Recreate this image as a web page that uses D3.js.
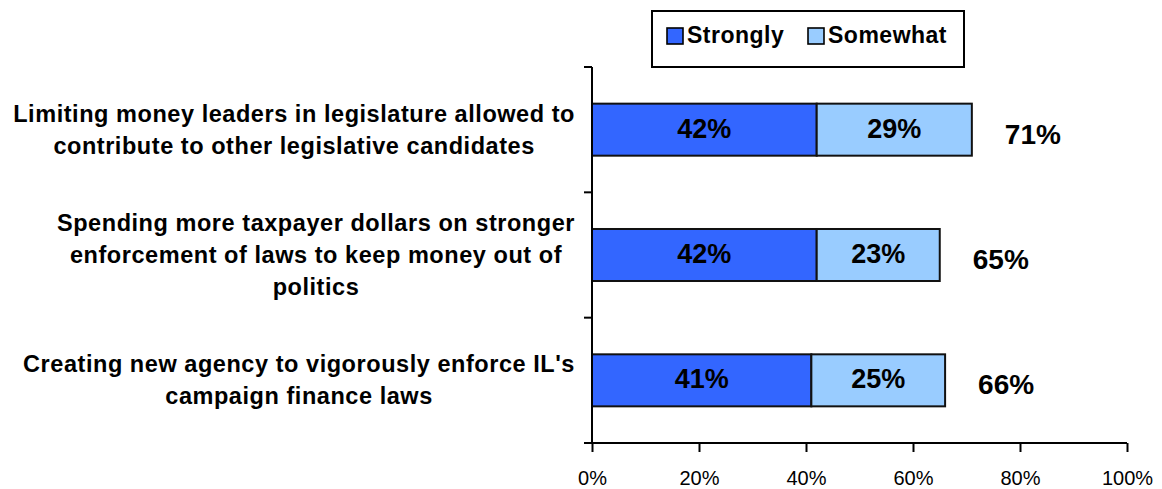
<!DOCTYPE html>
<html>
<head>
<meta charset="utf-8">
<script src="https://cdn.jsdelivr.net/npm/d3@7"></script>
<style>
  html, body { margin: 0; padding: 0; background: #fff; }
  svg { display: block; font-family: "Liberation Sans", Arial, sans-serif; }
</style>
</head>
<body>
<svg id="chart" width="1162" height="489"></svg>
<script>
// Survey items, top to bottom
const categories = [
  "Limiting money leaders in legislature allowed to contribute to other legislative candidates",
  "Spending more taxpayer dollars on stronger enforcement of laws to keep money out of politics",
  "Creating new agency to vigorously enforce IL's campaign finance laws"
];
// Wrapped label lines for each item
const categoryLines = [
  ["Limiting money leaders in legislature allowed to", "contribute to other legislative candidates"],
  ["Spending more taxpayer dollars on stronger", "enforcement of laws to keep money out of", "politics"],
  ["Creating new agency to vigorously enforce IL's", "campaign finance laws"]
];
const seriesNames = ["Strongly", "Somewhat"];
const strongly = [42, 42, 41];
const somewhat = [29, 23, 25];
const totals = [71, 65, 66];
const xTicks = [0, 20, 40, 60, 80, 100];
const colors = ["#3366FF", "#99CCFF"];

const svg = d3.select("#chart");
const plot = { left: 592, right: 1127, top: 67, bottom: 443 };

const x = d3.scaleLinear().domain([0, 100]).range([plot.left, plot.right]);
const y = d3.scaleBand().domain(categories).range([plot.top, plot.bottom]).padding(0);
const barH = y.bandwidth() * 0.415;

const rows = categories.map((c, i) => ({
  cat: c, lines: categoryLines[i],
  parts: [
    { s: 0, x0: 0, x1: strongly[i], v: strongly[i] },
    { s: 1, x0: strongly[i], x1: strongly[i] + somewhat[i], v: somewhat[i] }
  ],
  total: totals[i]
}));

// Stacked bars with value labels and a total to the right
const g = svg.append("g");
rows.forEach(r => {
  const cy = y(r.cat) + y.bandwidth() / 2;
  g.selectAll(null).data(r.parts).enter().append("rect")
    .attr("x", d => x(d.x0))
    .attr("y", cy - barH / 2)
    .attr("width", d => x(d.x1) - x(d.x0))
    .attr("height", barH)
    .attr("fill", d => colors[d.s])
    .attr("stroke", "#111")
    .attr("stroke-width", 2);
  g.selectAll(null).data(r.parts).enter().append("text")
    .attr("x", d => (x(d.x0) + x(d.x1)) / 2)
    .attr("y", cy + 8)
    .attr("text-anchor", "middle")
    .attr("font-size", 27)
    .attr("font-weight", "bold")
    .text(d => d.v + "%");
  g.append("text")
    .attr("x", x(r.total) + 33)
    .attr("y", cy + 14)
    .attr("font-size", 28)
    .attr("font-weight", "bold")
    .text(r.total + "%");
});

// Category labels: centered block, right-aligned to the axis
rows.forEach(r => {
  const cy = y(r.cat) + y.bandwidth() / 2;
  const lh = 32;
  const t = svg.append("text")
    .attr("font-size", 23.5)
    .attr("font-weight", "bold")
    .attr("letter-spacing", 0.55)
    .attr("text-anchor", "middle");
  const spans = r.lines.map(ln => t.append("tspan").text(ln));
  const maxW = d3.max(spans, s => s.node().getComputedTextLength());
  const cx = 575 - maxW / 2;
  const n = r.lines.length;
  spans.forEach((s, k) => {
    s.attr("x", cx).attr("y", cy + (k - (n - 1) / 2) * lh + 8);
  });
});

// Y axis with category separators
const yAx = svg.append("g");
yAx.append("line")
  .attr("x1", plot.left).attr("x2", plot.left)
  .attr("y1", plot.top).attr("y2", plot.bottom)
  .attr("stroke", "#000").attr("stroke-width", 2);
const bounds = categories.map(c => y(c)).concat([plot.bottom]);
yAx.selectAll(null).data(bounds).enter().append("line")
  .attr("x1", plot.left - 8).attr("x2", plot.left)
  .attr("y1", d => d).attr("y2", d => d)
  .attr("stroke", "#000").attr("stroke-width", 2);

// X axis
const xAxis = d3.axisBottom(x).tickValues(xTicks).tickFormat(d => d + "%").tickSize(9).tickPadding(19);
const xg = svg.append("g").attr("transform", `translate(0,${plot.bottom})`).call(xAxis);
xg.select(".domain").remove();
xg.append("line").attr("x1", plot.left - 7).attr("x2", plot.right)
  .attr("stroke", "#000").attr("stroke-width", 2);
xg.selectAll(".tick line").attr("stroke", "#000").attr("stroke-width", 2);
xg.selectAll(".tick text").attr("font-size", 20).attr("fill", "#000")
  .attr("font-family", "'Liberation Sans', Arial, sans-serif");

// Legend
const leg = svg.append("g");
leg.append("rect").attr("x", 652).attr("y", 11).attr("width", 312).attr("height", 56)
  .attr("fill", "#fff").attr("stroke", "#000").attr("stroke-width", 2);
const legX = [667, 808];
seriesNames.forEach((s, i) => {
  leg.append("rect").attr("x", legX[i]).attr("y", 28).attr("width", 16).attr("height", 16)
    .attr("fill", colors[i]).attr("stroke", "#000").attr("stroke-width", 1.6);
  leg.append("text").attr("x", legX[i] + 20).attr("y", 43)
    .attr("font-size", 23).attr("font-weight", "bold").attr("letter-spacing", 0.5).text(s);
});
</script>
</body>
</html>
